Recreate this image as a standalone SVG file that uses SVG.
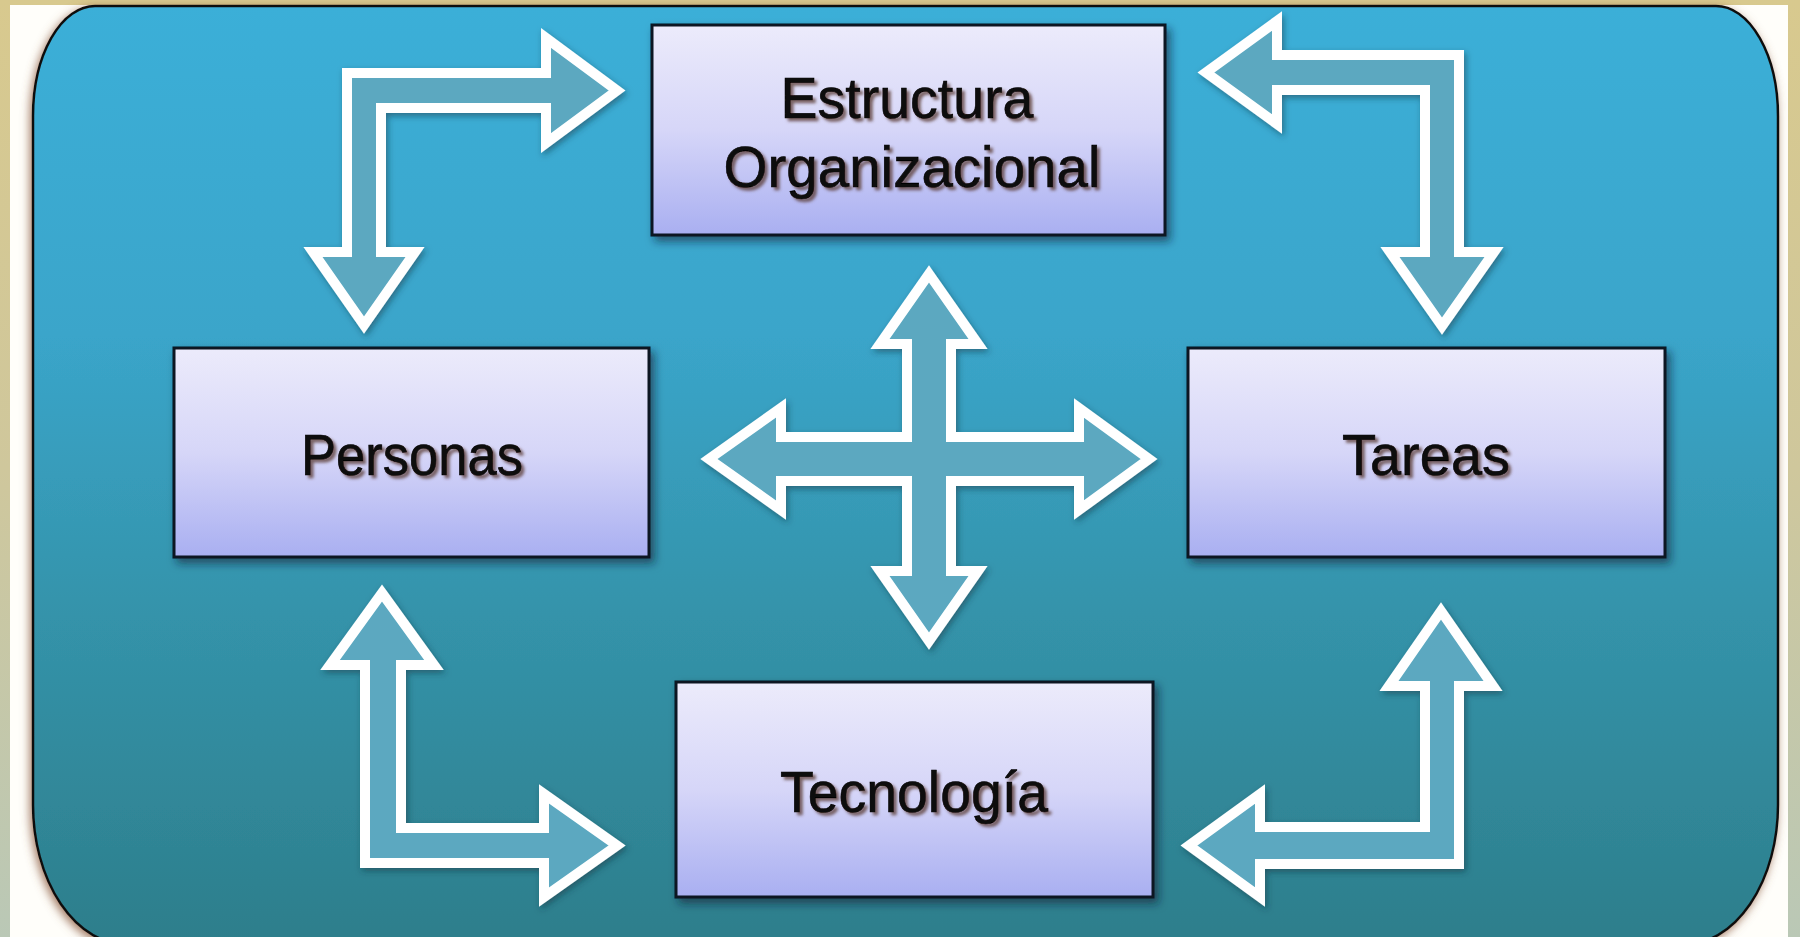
<svg xmlns="http://www.w3.org/2000/svg" width="1800" height="937" viewBox="0 0 1800 937">
<defs>
<linearGradient id="frameG" x1="0" y1="0" x2="0" y2="1">
<stop offset="0" stop-color="#D8C98E"/>
<stop offset="0.5" stop-color="#CFC79C"/>
<stop offset="1" stop-color="#BAC8B6"/>
</linearGradient>
<linearGradient id="panelG" x1="0" y1="0" x2="0" y2="1">
<stop offset="0" stop-color="#3BAFD8"/>
<stop offset="0.35" stop-color="#3AA5CA"/>
<stop offset="0.65" stop-color="#3493AA"/>
<stop offset="1" stop-color="#2D7E8B"/>
</linearGradient>
<linearGradient id="boxG" x1="0" y1="0" x2="0" y2="1">
<stop offset="0" stop-color="#ECEBFB"/>
<stop offset="0.5" stop-color="#D6D6F8"/>
<stop offset="1" stop-color="#A9AFF1"/>
</linearGradient>
<filter id="panelSh" x="-5%" y="-5%" width="110%" height="110%">
<feDropShadow dx="-2" dy="3" stdDeviation="5" flood-color="#8B5A3C" flood-opacity="0.8"/>
</filter>
<filter id="boxSh" x="-10%" y="-10%" width="120%" height="125%">
<feDropShadow dx="4" dy="5" stdDeviation="4" flood-color="#0A2030" flood-opacity="0.6"/>
</filter>
<filter id="arrSh" x="-10%" y="-10%" width="120%" height="120%">
<feDropShadow dx="2" dy="3" stdDeviation="3" flood-color="#10303C" flood-opacity="0.5"/>
</filter>
<filter id="txtSh" x="-10%" y="-20%" width="120%" height="140%">
<feDropShadow dx="3" dy="3" stdDeviation="1.6" flood-color="#5A3A30" flood-opacity="0.75"/>
</filter>
</defs>
<style>
.box{fill:url(#boxG);stroke:#0A1420;stroke-width:3;filter:url(#boxSh)}
.lbl{font-family:"Liberation Sans",Arial,sans-serif;font-size:57px;fill:#0A0A0A;stroke:#000;stroke-width:0.6;text-anchor:middle;filter:url(#txtSh)}
.arr{fill:#5BA8C0;stroke:#FFFFFF;stroke-width:10;stroke-linejoin:miter;stroke-miterlimit:10;filter:url(#arrSh)}
</style>
<rect x="0" y="0" width="1800" height="937" fill="url(#frameG)"/>
<rect x="10" y="5" width="1778" height="932" fill="#FFFEFA"/>
<path d="M 95 6 L 1716 6 A 62 110 0 0 1 1778 116 L 1778 805 A 95 140 0 0 1 1683 945 L 128 945 A 95 140 0 0 1 33 805 L 33 116 A 62 110 0 0 1 95 6 Z" fill="url(#panelG)" stroke="#111" stroke-width="2.5" filter="url(#panelSh)"/>
<g id="connectors">
<path class="arr" d="M 347 73 L 546 73 L 546 38 L 617 90.5 L 546 143 L 546 108 L 381 108 L 381 252 L 415 252 L 364 325 L 313 252 L 347 252 Z"/>
<path class="arr" d="M 1459 55 L 1459 252 L 1494 252 L 1442 326 L 1390 252 L 1425 252 L 1425 90 L 1277 90 L 1277 124 L 1206 72.5 L 1277 21 L 1277 55 Z"/>
<path class="arr" d="M 382 593 L 434 665 L 401 665 L 401 828 L 544 828 L 544 794 L 617 845.5 L 544 897 L 544 863 L 365 863 L 365 665 L 330 665 Z"/>
<path class="arr" d="M 1441 611 L 1493 686 L 1459 686 L 1459 864 L 1260 864 L 1260 897 L 1189 845.5 L 1260 794 L 1260 827 L 1425 827 L 1425 686 L 1389 686 Z"/>
<path class="arr" d="M 929 274 L 978 344 L 951 344 L 951 437 L 1079 437 L 1079 408 L 1149 459 L 1079 510 L 1079 481 L 951 481 L 951 571 L 978 571 L 929 641 L 880 571 L 907 571 L 907 481 L 781 481 L 781 510 L 709 459 L 781 408 L 781 437 L 907 437 L 907 344 L 880 344 Z"/>
</g>
<g id="estructura">
<rect class="box" x="652" y="25" width="513" height="210"/>
<text class="lbl" x="907" y="118" textLength="253" lengthAdjust="spacingAndGlyphs">Estructura</text>
<text class="lbl" x="912" y="187" textLength="377" lengthAdjust="spacingAndGlyphs">Organizacional</text>
</g>
<g id="personas">
<rect class="box" x="174" y="348" width="475" height="209"/>
<text class="lbl" x="412" y="475" textLength="222" lengthAdjust="spacingAndGlyphs">Personas</text>
</g>
<g id="tareas">
<rect class="box" x="1188" y="348" width="477" height="209"/>
<text class="lbl" x="1426" y="475" textLength="168" lengthAdjust="spacingAndGlyphs">Tareas</text>
</g>
<g id="tecnologia">
<rect class="box" x="676" y="682" width="477" height="215"/>
<text class="lbl" x="914" y="812" textLength="268" lengthAdjust="spacingAndGlyphs">Tecnología</text>
</g>
</svg>
